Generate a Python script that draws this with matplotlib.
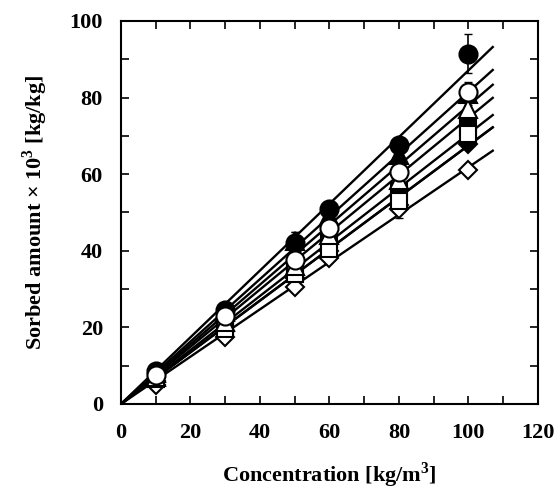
import matplotlib.pyplot as plt
from matplotlib.ticker import MultipleLocator
import numpy as np

plt.rcParams['font.family'] = ['Liberation Serif', 'DejaVu Serif']
plt.rcParams['font.weight'] = 'bold'
plt.rcParams['mathtext.fontset'] = 'custom'
plt.rcParams['mathtext.rm'] = 'Liberation Serif:bold'
plt.rcParams['mathtext.bf'] = 'Liberation Serif:bold'

conc = [10, 30, 50, 60, 80, 100]

# sorbed amount x 10^3 for each series
filled_circle = [8.5, 24.5, 42.0, 51.0, 67.5, 91.5]
filled_triangle = [8.0, 24.0, 42.5, 49.0, 65.0, 81.0]
open_circle = [7.5, 23.0, 37.5, 46.0, 60.5, 81.5]
open_triangle = [7.0, 21.5, 36.0, 44.0, 58.5, 77.0]
filled_square = [7.0, 20.0, 35.0, 42.0, 55.5, 72.0]
open_square = [6.5, 19.5, 34.0, 40.5, 53.0, 70.5]
filled_diamond = [6.0, 19.0, 33.0, 40.0, 52.0, 68.0]
open_diamond = [5.0, 17.5, 30.5, 38.0, 51.0, 61.0]

# error bars (0 = none)
err_filled_circle = [0, 0, 3.0, 0, 0, 5.0]
err_filled_triangle = [1.5, 0, 2.5, 0, 2.0, 3.0]
err_open_square = [0, 0, 0, 0, 4.5, 2.0]

# slopes of the fitted lines through the origin
slopes = [0.871, 0.815, 0.779, 0.747, 0.705, 0.675, 0.675, 0.618]

# filled ones first, open markers end up on top
series = [
    (filled_diamond, None, 'D', 'black', 9),
    (filled_square, None, 's', 'black', 11),
    (filled_triangle, err_filled_triangle, '^', 'black', 13),
    (filled_circle, err_filled_circle, 'o', 'black', 13),
    (open_diamond, None, 'D', 'white', 9),
    (open_square, err_open_square, 's', 'white', 11),
    (open_triangle, None, '^', 'white', 13),
    (open_circle, None, 'o', 'white', 13),
]

fig = plt.figure(figsize=(5.58, 4.96), dpi=100)
ax = fig.add_axes([0.2168, 0.1855, 0.7472, 0.7722])

xfit = np.array([0, 107])
for s in slopes:
    ax.plot(xfit, s * xfit, color='black', lw=1.7, zorder=2)

for vals, err, mk, fc, ms in series:
    if err is not None:
        ax.errorbar(conc, vals, yerr=err, fmt='none', ecolor='black',
                    elinewidth=1.2, capsize=3, zorder=3)
    ax.plot(conc, vals, linestyle='none', marker=mk, markersize=ms,
            markerfacecolor=fc, markeredgecolor='black', markeredgewidth=1.5,
            zorder=4)

ax.set_xlim(0, 120)
ax.set_ylim(0, 100)
ax.xaxis.set_major_locator(MultipleLocator(20))
ax.xaxis.set_minor_locator(MultipleLocator(10))
ax.yaxis.set_major_locator(MultipleLocator(20))
ax.yaxis.set_minor_locator(MultipleLocator(10))
ax.tick_params(which='both', direction='in', top=True, right=True,
               length=6, width=1.2, labelsize=16)
ax.tick_params(axis='x', pad=14)
ax.tick_params(axis='y', pad=13)
for sp in ax.spines.values():
    sp.set_linewidth(1.5)

ax.set_xlabel('Concentration [kg/m$^3$]', fontsize=16,
              fontweight='bold', labelpad=12)
ax.set_ylabel('Sorbed amount × 10$^3$ [kg/kg]', fontsize=16,
              fontweight='bold', labelpad=14)

fig.savefig('out.png', dpi=100)
